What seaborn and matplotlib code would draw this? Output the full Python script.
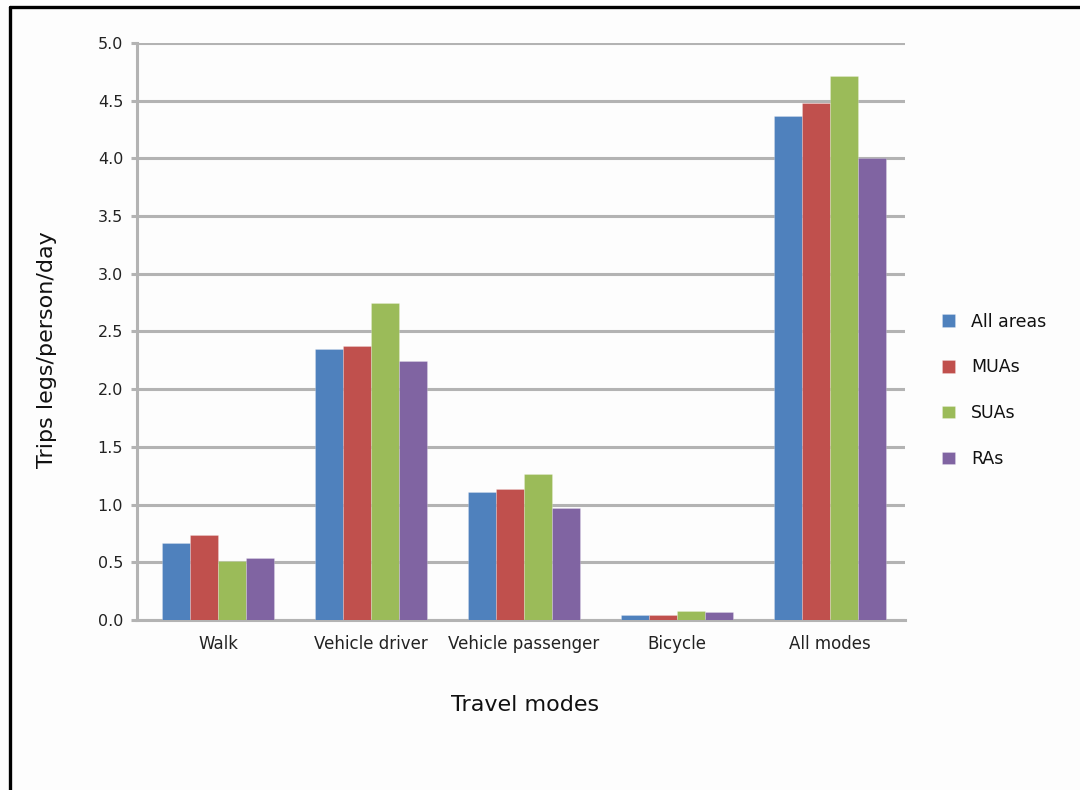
import matplotlib
matplotlib.use("Agg")
import matplotlib.pyplot as plt
from matplotlib.lines import Line2D
import seaborn as sns
import pandas as pd

# Trip legs per person per day by travel mode and area type
modes = ["Walk", "Vehicle driver", "Vehicle passenger", "Bicycle", "All modes"]
areas = ["All areas", "MUAs", "SUAs", "RAs"]
all_areas = [0.67, 2.35, 1.11, 0.045, 4.37]
muas = [0.74, 2.37, 1.135, 0.045, 4.48]
suas = [0.51, 2.75, 1.265, 0.08, 4.71]
ras = [0.54, 2.24, 0.97, 0.07, 4.00]
y_ticks = [0.0, 0.5, 1.0, 1.5, 2.0, 2.5, 3.0, 3.5, 4.0, 4.5, 5.0]
colors = ["#4F81BD", "#C0504D", "#9BBB59", "#8064A2"]

series = [all_areas, muas, suas, ras]
df = pd.DataFrame(
    [(m, a, v) for a, vals in zip(areas, series) for m, v in zip(modes, vals)],
    columns=["mode", "area", "trips"],
)

sns.set_theme(style="white")
plt.rcParams["font.family"] = ["DejaVu Sans"]

fig = plt.figure(figsize=(10.8, 7.9), dpi=100, facecolor="#fdfdfd")
ax = fig.add_axes([0.1269, 0.2152, 0.711, 0.7304])
ax.set_facecolor("#fdfdfd")

sns.barplot(
    data=df, x="mode", y="trips", hue="area", order=modes, hue_order=areas,
    palette=colors, width=0.73, gap=0, saturation=1, ax=ax, zorder=3,
    linewidth=0.6, edgecolor="#ffffff40", legend=True,
)

ax.set_ylim(0, 5.0)
ax.set_xlim(-0.53, 4.49)
ax.set_yticks(y_ticks)
ax.set_yticklabels([f"{t:.1f}" for t in y_ticks])
ax.yaxis.grid(True, color="#b3b3b3", linewidth=2.2, zorder=0)
ax.set_axisbelow(True)

for side in ["top", "right"]:
    ax.spines[side].set_visible(False)
for side in ["left", "bottom"]:
    ax.spines[side].set_color("#b3b3b3")
    ax.spines[side].set_linewidth(2.2)

ax.tick_params(axis="y", which="both", left=True, length=4, width=2.2,
               color="#b3b3b3", pad=6, labelsize=11.5, labelcolor="#222222")
ax.tick_params(axis="x", bottom=False, pad=5, labelsize=12, labelcolor="#222222")
ax.set_xlabel("")
ax.set_ylabel("")

fig.text(0.0435, 0.557, "Trips legs/person/day", rotation=90, ha="center",
         va="center", fontsize=16, color="#111111")
fig.text(0.486, 0.108, "Travel modes", ha="center", va="center",
         fontsize=16, color="#111111")

leg = ax.legend(
    loc="center left", bbox_to_anchor=(0.858, 0.506), bbox_transform=fig.transFigure,
    frameon=False, fontsize=12.5, labelspacing=1.6, handlelength=0.75,
    handleheight=0.75, handletextpad=0.9,
)
for t in leg.get_texts():
    t.set_color("#111111")

# Frame lines along the left and top edges of the figure
fig.add_artist(Line2D([10 / 1080, 10 / 1080], [0, 1 - 7 / 790], color="black",
                      linewidth=2.4, transform=fig.transFigure))
fig.add_artist(Line2D([10 / 1080, 1], [1 - 7 / 790, 1 - 7 / 790], color="black",
                      linewidth=2.4, transform=fig.transFigure))

fig.savefig("out.png", dpi=100, facecolor=fig.get_facecolor())
